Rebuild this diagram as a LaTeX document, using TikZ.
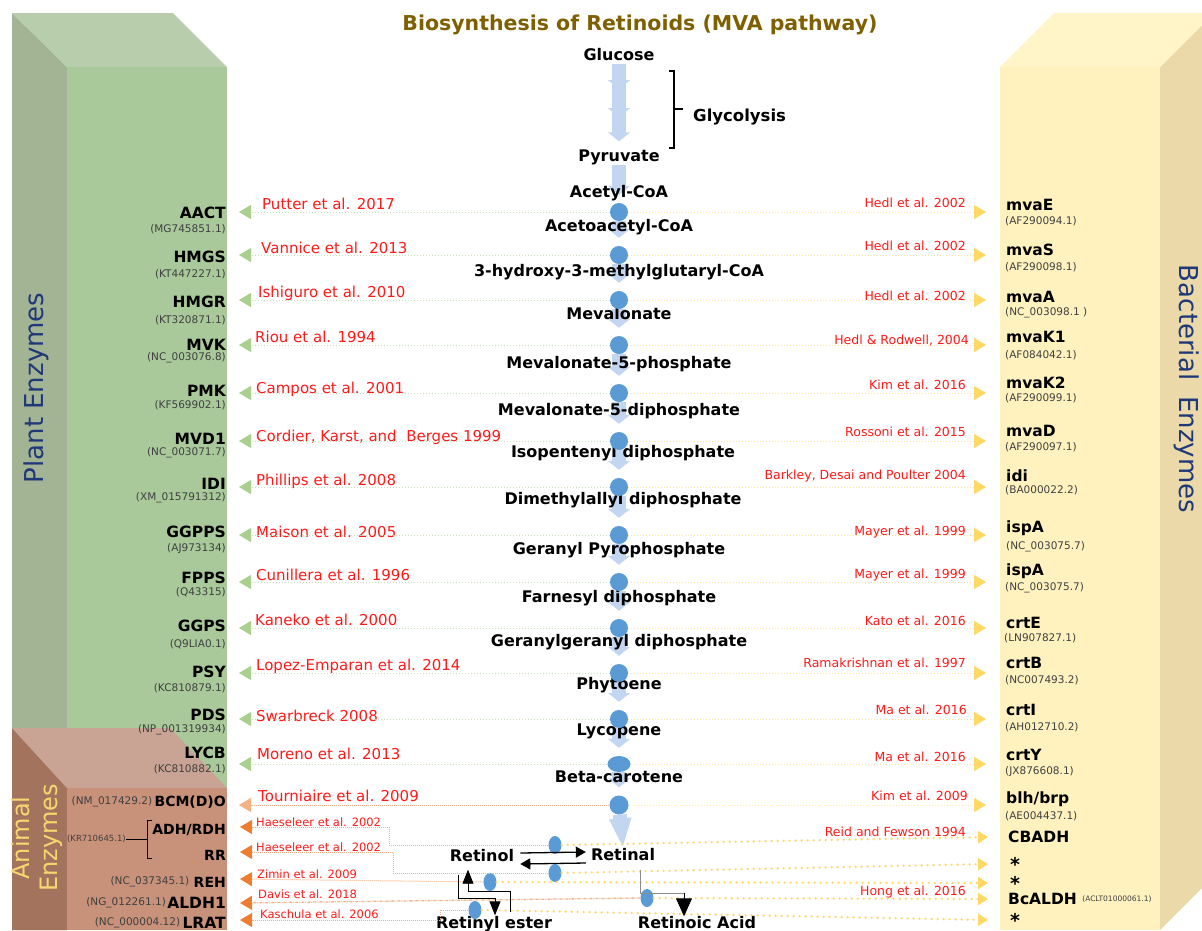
\documentclass[tikz,border=0pt]{standalone}
\usepackage{fontspec}
\setmainfont{DejaVu Sans}
\usepackage{tikz}
\usetikzlibrary{arrows.meta,shapes,positioning,backgrounds}
\usepackage{xcolor}
\definecolor{rtgold}{RGB}{127,96,0}
\definecolor{rtred}{RGB}{255,26,26}
\definecolor{rtnavy}{RGB}{31,56,120}
\definecolor{rtdot}{RGB}{91,155,213}
\definecolor{rtflow}{RGB}{194,214,241}
\definecolor{plfront}{RGB}{169,201,155}
\definecolor{pltop}{RGB}{183,205,172}
\definecolor{plside}{RGB}{163,180,148}
\definecolor{anfront}{RGB}{200,145,122}
\definecolor{antop}{RGB}{201,163,148}
\definecolor{anside}{RGB}{163,115,94}
\definecolor{anyellow}{RGB}{244,215,110}
\definecolor{bafront}{RGB}{255,242,191}
\definecolor{batop}{RGB}{255,245,200}
\definecolor{baside}{RGB}{235,217,169}
\definecolor{plline}{RGB}{197,224,180}
\definecolor{pltip}{RGB}{169,208,142}
\definecolor{baline}{RGB}{255,230,153}
\definecolor{batip}{RGB}{255,217,102}
\definecolor{anline}{RGB}{244,177,131}
\definecolor{antip}{RGB}{237,125,49}
\newcommand{\metabfont}{\fontsize{16}{19}\selectfont\bfseries}
\newcommand{\enzfont}{\fontsize{15.5}{18}\selectfont\bfseries}
\newcommand{\anenzfont}{\fontsize{14}{17}\selectfont\bfseries}
\newcommand{\accfont}{\fontsize{10.5}{12}\selectfont}
\newcommand{\lreffont}{\fontsize{15}{17}\selectfont}
\newcommand{\rreffont}{\fontsize{12.5}{14}\selectfont}
\newcommand{\areffont}{\fontsize{11.5}{13}\selectfont}
\newcommand{\starfont}{\fontsize{19}{20}\selectfont\bfseries}
\tikzstyle{metab} = [inner sep=0pt, text height=12pt, text depth=3pt, font=\metabfont]
\tikzstyle{penz} = [anchor=east, inner sep=0pt, font=\enzfont]
\tikzstyle{aenz} = [anchor=east, inner sep=0pt, font=\anenzfont]
\tikzstyle{pacc} = [anchor=east, inner sep=0pt, font=\accfont, text=black!75]
\tikzstyle{benz} = [anchor=west, inner sep=0pt, font=\enzfont]
\tikzstyle{bacc} = [anchor=west, inner sep=0pt, font=\accfont, text=black!75]
\tikzstyle{pref} = [anchor=west, inner sep=0pt, font=\lreffont, text=rtred]
\tikzstyle{bref} = [anchor=east, inner sep=0pt, font=\rreffont, text=rtred]
\tikzstyle{aref} = [anchor=west, inner sep=0pt, font=\areffont, text=rtred]
\tikzstyle{stage} = [circle, fill=rtdot, inner sep=0pt, minimum size=18pt]
\tikzstyle{sidestage} = [ellipse, fill=rtdot, inner sep=0pt, minimum width=13pt, minimum height=18pt]
\tikzstyle{flow} = [line width=14pt, draw=rtflow, -{Triangle[width=22pt,length=9pt]}, shorten >=8pt]
\tikzstyle{plantarrow} = [draw=plline, line width=1pt, dotted, -{Triangle[width=14pt,length=12pt,color=pltip]}, shorten >=13pt]
\tikzstyle{bactarrow} = [draw=baline, line width=1pt, dotted, -{Triangle[width=14pt,length=12pt,color=batip]}, shorten >=20pt]
\tikzstyle{animlight} = [draw=anline, line width=1pt, densely dotted, -{Triangle[width=14pt,length=12pt,color=anline]}, shorten >=13pt]
\tikzstyle{animarrow} = [draw=anline, line width=1pt, densely dotted, -{Triangle[width=14pt,length=12pt,color=antip]}]
\tikzstyle{bactdots} = [draw=batip, line width=2.6pt, line cap=round, dash pattern=on 0pt off 6pt, -{Triangle[width=12pt,length=10pt,color=batip]}]
\tikzstyle{rxn} = [draw=black, line width=1.3pt, -{Triangle[width=11pt,length=10pt]}]
\tikzstyle{rxnstep} = [draw=black, line width=0.9pt, -{Triangle[width=11pt,length=14pt]}]
\tikzstyle{rxngray} = [draw=black!45, line width=0.9pt]
\tikzstyle{rxnbig} = [draw=black, line width=0.9pt, -{Triangle[width=16pt,length=18pt]}]

\begin{document}
\begin{tikzpicture}[x=1pt,y=-1pt]
\path[use as bounding box] (0,0) rectangle (1202,930);

% enzyme boxes
\fill[plside] (12,13) -- (67,67) -- (67,930) -- (12,930) -- cycle;
\fill[pltop] (12,13) -- (173,13) -- (227,67) -- (67,67) -- cycle;
\fill[plfront] (67,67) rectangle (227,930);
\fill[anside] (12,728) -- (67,788) -- (67,930) -- (12,930) -- cycle;
\fill[antop] (12,728) -- (170,728) -- (227,788) -- (67,788) -- cycle;
\fill[anfront] (67,788) rectangle (227,930);
\fill[baside] (1160,67) -- (1202,25) -- (1202,888) -- (1160,930) -- cycle;
\fill[batop] (1000,67) -- (1054,13) -- (1202,13) -- (1202,25) -- (1160,67) -- cycle;
\fill[bafront] (1000,67) rectangle (1160,930);

\node[font=\fontsize{20.5}{24}\selectfont\bfseries, text=rtgold] (title) at (640,25) {Biosynthesis of Retinoids (MVA pathway)};
\node[rotate=90, font=\fontsize{26}{30}\selectfont, text=rtnavy] (plantlbl) at (36,388) {Plant Enzymes};
\node[rotate=-90, font=\fontsize{26}{30}\selectfont, text=rtnavy] (bactlbl) at (1187,389) {Bacterial\hspace{16pt}Enzymes};
\node[rotate=90, align=center, font=\fontsize{24}{28}\selectfont, text=anyellow] (animlbl) at (37,838) {Animal\\Enzymes};

% pathway
\node[metab] (glc) at (619,56) {Glucose};
\node[metab] (pyr) at (619,157) {Pyruvate};
\node[metab] (acoa) at (619,193) {Acetyl-CoA};
\node[metab] (aacoa) at (619,227) {Acetoacetyl-CoA};
\node[metab] (hmgcoa) at (619,272) {3-hydroxy-3-methylglutaryl-CoA};
\node[metab] (mev) at (619,315) {Mevalonate};
\node[metab] (mvp) at (619,364) {Mevalonate-5-phosphate};
\node[metab] (mvpp) at (619,411) {Mevalonate-5-diphosphate};
\node[metab] (ipp) at (623,453) {Isopentenyl diphosphate};
\node[metab] (dmapp) at (623,500) {Dimethylallyl diphosphate};
\node[metab] (gpp) at (619,550) {Geranyl Pyrophosphate};
\node[metab] (fpp) at (619,598) {Farnesyl diphosphate};
\node[metab] (ggpp) at (619,642) {Geranylgeranyl diphosphate};
\node[metab] (phy) at (619,685) {Phytoene};
\node[metab] (lyc) at (619,731) {Lycopene};
\node[metab] (bcar) at (619,778) {Beta-carotene};
\node[metab] (rol) at (482,857) {Retinol};
\node[metab] (ral) at (623,856) {Retinal};
\node[metab] (rye) at (494,924) {Retinyl ester};
\node[metab] (rac) at (697,924) {Retinoic Acid};

\node[font=\fontsize{16.5}{20}\selectfont\bfseries, anchor=west, inner sep=0pt] (glyc) at (693,117) {Glycolysis};
\draw[line width=1.2pt] (669,71) -- (674,71) -- (674,148) -- (669,148);
\draw[line width=1.2pt] (674,109) -- ++(9,0);

\node[stage] (d1) at (619,212) {};
\node[stage] (d2) at (619,255) {};
\node[stage] (d3) at (619,300) {};
\node[stage] (d4) at (619,345) {};
\node[stage] (d5) at (619,393) {};
\node[stage] (d6) at (619,441) {};
\node[stage] (d7) at (619,487) {};
\node[stage] (d8) at (619,535) {};
\node[stage] (d9) at (619,582) {};
\node[stage] (d10) at (619,628) {};
\node[stage] (d11) at (619,673) {};
\node[stage] (d12) at (619,719) {};
\node[stage, ellipse, minimum width=23pt, minimum height=16pt] (d13) at (619,764) {};
\node[stage, minimum size=19pt] (d14) at (619,805) {};
\node[sidestage] (d15) at (555,845) {};
\node[sidestage] (d16) at (555,873) {};
\node[sidestage] (d17) at (490,882) {};
\node[sidestage] (d18) at (647,898) {};
\node[sidestage] (d19) at (475,910) {};

% plant enzymes
\node[penz] (paact) at (226,213) {AACT};
\node[pacc] (paactacc) at (226,229) {(MG745851.1)};
\node[pref] (paactr) at (262,204) {Putter et al. 2017};
\node[penz] (phmgs) at (226,257) {HMGS};
\node[pacc] (phmgsacc) at (226,274) {(KT447227.1)};
\node[pref] (phmgsr) at (261,248) {Vannice et al. 2013};
\node[penz] (phmgr) at (226,302) {HMGR};
\node[pacc] (phmgracc) at (226,320) {(KT320871.1)};
\node[pref] (phmgrr) at (258,293) {Ishiguro et al. 2010};
\node[penz] (pmvk) at (226,345) {MVK};
\node[pacc] (pmvkacc) at (226,358) {(NC\_003076.8)};
\node[pref] (pmvkr) at (255,337) {Riou et al. 1994};
\node[penz] (ppmk) at (226,391) {PMK};
\node[pacc] (ppmkacc) at (226,405) {(KF569902.1)};
\node[pref] (ppmkr) at (256,389) {Campos et al. 2001};
\node[penz] (pmvd) at (226,439) {MVD1};
\node[pacc] (pmvdacc) at (226,453) {(NC\_003071.7)};
\node[pref] (pmvdr) at (256,437) {Cordier, Karst, and~ Berges 1999};
\node[penz] (pidi) at (226,484) {IDI};
\node[pacc] (pidiacc) at (226,498) {(XM\_015791312)};
\node[pref] (pidir) at (256,481) {Phillips et al. 2008};
\node[penz] (pggpps) at (226,532) {GGPPS};
\node[pacc] (pggppsacc) at (226,549) {(AJ973134)};
\node[pref] (pggppsr) at (256,532) {Maison et al. 2005};
\node[penz] (pfpps) at (226,578) {FPPS};
\node[pacc] (pfppsacc) at (226,592) {(Q43315)};
\node[pref] (pfppsr) at (256,575) {Cunillera et al. 1996};
\node[penz] (pggps) at (226,626) {GGPS};
\node[pacc] (pggpsacc) at (226,644) {(Q9LIA0.1)};
\node[pref] (pggpsr) at (255,620) {Kaneko et al. 2000};
\node[penz] (ppsy) at (226,672) {PSY};
\node[pacc] (ppsyacc) at (226,688) {(KC810879.1)};
\node[pref] (ppsyr) at (256,666) {Lopez-Emparan et al. 2014};
\node[penz] (ppds) at (226,715) {PDS};
\node[pacc] (ppdsacc) at (226,730) {(NP\_001319934)};
\node[pref] (ppdsr) at (256,716) {Swarbreck 2008};
\node[penz] (plycb) at (226,753) {LYCB};
\node[pacc] (plycbacc) at (226,769) {(KC810882.1)};
\node[pref] (plycbr) at (257,754) {Moreno et al. 2013};

% animal enzymes
\node[aenz] (abcmo) at (226,802) {BCM(D)O};
\node[pacc, font=\fontsize{10.5}{12}\selectfont, left=2pt of abcmo] (abcmoacc) {(NM\_017429.2)};
\node[pref] (abcmor) at (258,796) {Tourniaire et al. 2009};
\node[aenz] (aadh) at (226,830) {ADH/RDH};
\node[aenz] (arr) at (226,855) {RR};
\node[pacc, font=\fontsize{8.5}{10}\selectfont] (aadhacc) at (126,839) {(KR710645.1)};
\draw[line width=1pt] (152,820) -- (147,820) -- (147,858) -- (152,858);
\draw[line width=1pt] (aadhacc.east) -- (147,839);
\node[aref] (aadhr) at (256,822) {Haeseleer et al. 2002};
\node[aref] (arrr) at (256,847) {Haeseleer et al. 2002};
\node[aenz] (areh) at (226,882) {REH};
\node[pacc, font=\fontsize{10.5}{12}\selectfont, left=4pt of areh] (arehacc) {(NC\_037345.1)};
\node[aref] (arehr) at (257,874) {Zimin et al. 2009};
\node[aenz, font=\enzfont] (aaldh) at (226,903) {ALDH1};
\node[pacc, font=\fontsize{10.5}{12}\selectfont, left=1pt of aaldh] (aaldhacc) {(NG\_012261.1)};
\node[aref] (aaldhr) at (258,894) {Davis et al. 2018};
\node[aenz, font=\enzfont] (alrat) at (226,923) {LRAT};
\node[pacc, font=\fontsize{10.5}{12}\selectfont, left=2pt of alrat] (alratacc) {(NC\_000004.12)};
\node[aref] (alratr) at (260,914) {Kaschula et al. 2006};

% bacterial enzymes
\node[benz] (bmvae) at (1006,205) {mvaE};
\node[bacc] (bmvaeacc) at (1005,221) {(AF290094.1)};
\node[bref] (bmvaer) at (966,203) {Hedl et al. 2002};
\node[benz] (bmvas) at (1006,250) {mvaS};
\node[bacc] (bmvasacc) at (1005,267) {(AF290098.1)};
\node[bref] (bmvasr) at (966,246) {Hedl et al. 2002};
\node[benz] (bmvaa) at (1006,297) {mvaA};
\node[bacc] (bmvaaacc) at (1005,313) {(NC\_003098.1 )};
\node[bref] (bmvaar) at (966,296) {Hedl et al. 2002};
\node[benz] (bmvakone) at (1006,337) {mvaK1};
\node[bacc] (bmvakoneacc) at (1005,355) {(AF084042.1)};
\node[bref] (bmvakoner) at (969,340) {Hedl \& Rodwell, 2004};
\node[benz] (bmvaktwo) at (1006,383) {mvaK2};
\node[bacc] (bmvaktwoacc) at (1005,398) {(AF290099.1)};
\node[bref] (bmvaktwor) at (966,385) {Kim et al. 2016};
\node[benz] (bmvad) at (1006,431) {mvaD};
\node[bacc] (bmvadacc) at (1005,447) {(AF290097.1)};
\node[bref] (bmvadr) at (966,432) {Rossoni et al. 2015};
\node[benz] (bidi) at (1006,476) {idi};
\node[bacc] (bidiacc) at (1005,490) {(BA000022.2)};
\node[bref] (bidir) at (966,476) {Barkley, Desai and Poulter 2004};
\node[benz] (bispaone) at (1006,528) {ispA};
\node[bacc] (bispaoneacc) at (1006,547) {(NC\_003075.7)};
\node[bref] (bispaoner) at (966,532) {Mayer et al. 1999};
\node[benz] (bispatwo) at (1006,571) {ispA};
\node[bacc] (bispatwoacc) at (1005,588) {(NC\_003075.7)};
\node[bref] (bispatwor) at (966,575) {Mayer et al. 1999};
\node[benz] (bcrte) at (1006,623) {crtE};
\node[bacc] (bcrteacc) at (1004,638) {(LN907827.1)};
\node[bref] (bcrter) at (966,621) {Kato et al. 2016};
\node[benz] (bcrtb) at (1006,663) {crtB};
\node[bacc] (bcrtbacc) at (1005,680) {(NC007493.2)};
\node[bref] (bcrtbr) at (966,663) {Ramakrishnan et al. 1997};
\node[benz] (bcrti) at (1006,710) {crtI};
\node[bacc] (bcrtiacc) at (1005,727) {(AH012710.2)};
\node[bref] (bcrtir) at (967,710) {Ma et al. 2016};
\node[benz] (bcrty) at (1006,755) {crtY};
\node[bacc] (bcrtyacc) at (1005,772) {(JX876608.1)};
\node[bref] (bcrtyr) at (966,757) {Ma et al. 2016};
\node[benz] (bblh) at (1006,799) {blh/brp};
\node[bacc] (bblhacc) at (1005,816) {(AE004437.1)};
\node[bref] (bblhr) at (968,796) {Kim et al. 2009};
\node[benz] (bcbadh) at (1008,837) {CBADH};
\node[bref] (bcbadhr) at (966,832) {Reid and Fewson 1994};
\node[benz, font=\starfont] (bstar1) at (1010,864) {*};
\node[benz, font=\starfont] (bstar2) at (1010,883) {*};
\node[benz] (bbcaldh) at (1008,899) {BcALDH};
\node[bacc, font=\fontsize{7.5}{9}\selectfont, right=5pt of bbcaldh] (bbcaldhacc) {(ACLT01000061.1)};
\node[bref] (bbcaldhr) at (966,892) {Hong et al. 2016};
\node[benz, font=\starfont] (bstar3) at (1010,920) {*};

% plant side arrows
\draw[plantarrow] (d1.west) -- (d1.west -| paact.east);
\draw[plantarrow] (d2.west) -- (d2.west -| phmgs.east);
\draw[plantarrow] (d3.west) -- (d3.west -| phmgr.east);
\draw[plantarrow] (d4.west) -- (d4.west -| pmvk.east);
\draw[plantarrow] (d5.west) -- (d5.west -| ppmk.east);
\draw[plantarrow] (d6.west) -- (d6.west -| pmvd.east);
\draw[plantarrow] (d7.west) -- (d7.west -| pidi.east);
\draw[plantarrow] (d8.west) -- (d8.west -| pggpps.east);
\draw[plantarrow] (d9.west) -- (d9.west -| pfpps.east);
\draw[plantarrow] (d10.west) -- (d10.west -| pggps.east);
\draw[plantarrow] (d11.west) -- (d11.west -| ppsy.east);
\draw[plantarrow] (d12.west) -- (d12.west -| ppds.east);
\draw[plantarrow] (d13.west) -- (d13.west -| plycb.east);

% animal side arrows
\draw[animlight] (d14.west) -- (d14.west -| abcmo.east);
\draw[animarrow] (d15.west) -- ++(-159,0) |- ([xshift=14pt,yshift=3pt]aadh.east);
\draw[animarrow] (d16.west) -- ++(-155,0) |- ([xshift=14pt,yshift=3pt]arr.east);
\draw[animarrow] (d17.west) -- ([xshift=14pt,yshift=3pt]areh.east);
\draw[animarrow, densely dash dot, line width=1.3pt] (d18.west) -- ([xshift=14pt]aaldh.east);
\draw[animarrow] (d19.west) -- ++(-28,0) |- ([xshift=14pt,yshift=3pt]alrat.east);

% bacterial side arrows
\draw[bactarrow] (d1.east) -- (d1.east -| bmvae.west);
\draw[bactarrow] (d2.east) -- (d2.east -| bmvas.west);
\draw[bactarrow] (d3.east) -- (d3.east -| bmvaa.west);
\draw[bactarrow] (d4.east) -- (d4.east -| bmvakone.west);
\draw[bactarrow] (d5.east) -- (d5.east -| bmvaktwo.west);
\draw[bactarrow] (d6.east) -- (d6.east -| bmvad.west);
\draw[bactarrow] (d7.east) -- (d7.east -| bidi.west);
\draw[bactarrow] (d8.east) -- (d8.east -| bispaone.west);
\draw[bactarrow] (d9.east) -- (d9.east -| bispatwo.west);
\draw[bactarrow] (d10.east) -- (d10.east -| bcrte.west);
\draw[bactarrow] (d11.east) -- (d11.east -| bcrtb.west);
\draw[bactarrow] (d12.east) -- (d12.east -| bcrti.west);
\draw[bactarrow] (d13.east) -- (d13.east -| bcrty.west);
\draw[bactarrow] (d14.east) -- (d14.east -| bblh.west);
\draw[bactdots] (d15.east) -- ([xshift=-20pt]bcbadh.west);
\draw[bactdots] (d16.east) -- ([xshift=-22pt]bstar1.west);
\draw[bactdots] (d17.east) -- ([xshift=-22pt]bstar2.west);
\draw[bactdots] (d18.east) -- ([xshift=-20pt]bbcaldh.west);
\draw[bactdots] (d19.east) -- ([xshift=-22pt]bstar3.west);

% retinoid reactions
\draw[rxn] ([xshift=6pt,yshift=4pt]rol.east) -- ([xshift=-5pt,yshift=4pt]ral.west);
\draw[rxn] ([xshift=-5pt,yshift=-7pt]ral.west) -- ([xshift=6pt,yshift=-7pt]rol.east);
\draw[rxnstep] ([xshift=-24pt,yshift=-10pt]rol.south) -- ++(0,24) -| ([xshift=1pt,yshift=1pt]rye.north);
\draw[rxnstep] ([xshift=16pt,yshift=4pt]rye.north) -- ++(0,-21) -| ([xshift=-14pt,yshift=-5pt]rol.south);
\coordinate (rakink) at (684,893);
\draw[rxngray] ([xshift=17pt,yshift=-6pt]ral.south) |- (rakink);
\draw[rxnbig] (rakink) -- (rakink |- rac.north);

% main flow column
\begin{scope}[on background layer]
\fill[white] (0,0) rectangle (1202,930);
\coordinate (gly1) at (619,97);
\coordinate (gly2) at (619,125);
\draw[flow] (glc.south) -- (gly1);
\draw[flow] ([yshift=17pt]gly1) -- (gly2);
\draw[flow] ([yshift=17pt]gly2) -- (pyr.north);
\draw[flow] (pyr.south) -- (d1);
\draw[flow] (d1) -- (d2);
\draw[flow] (d2) -- (d3);
\draw[flow] (d3) -- (d4);
\draw[flow] (d4) -- (d5);
\draw[flow] (d5) -- (d6);
\draw[flow] (d6) -- (d7);
\draw[flow] (d7) -- (d8);
\draw[flow] (d8) -- (d9);
\draw[flow] (d9) -- (d10);
\draw[flow] (d10) -- (d11);
\draw[flow] (d11) -- (d12);
\draw[flow] (d12) -- (d13);
\draw[flow] (d13) -- (d14);
\draw[flow, -{Triangle[width=20pt,length=30pt]}, shorten >=0pt] (d14) -- (ral.north);
\end{scope}
\end{tikzpicture}
\end{document}
